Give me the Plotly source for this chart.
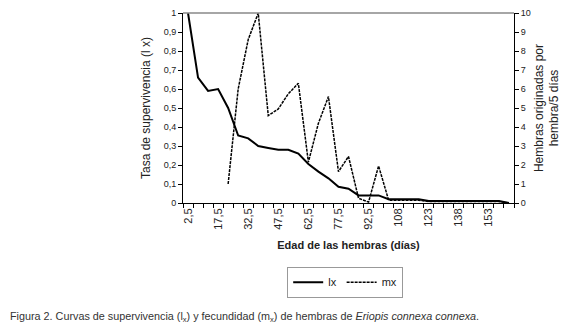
import plotly.graph_objects as go

days = [2.5, 7.5, 12.5, 17.5, 22.5, 27.5, 32.5, 37.5, 42.5, 47.5, 52.5,
        57.5, 62.5, 67.5, 72.5, 77.5, 82.5, 87.5, 92.5, 97.5, 102.5, 107.5,
        112.5, 117.5, 122.5, 127.5, 132.5, 137.5, 142.5, 147.5, 152.5, 157.5, 162.5]
lx = [1.0, 0.66, 0.59, 0.60, 0.50, 0.355, 0.34, 0.30, 0.29, 0.28, 0.28,
      0.26, 0.205, 0.165, 0.13, 0.085, 0.075, 0.04, 0.04, 0.04, 0.02, 0.02,
      0.02, 0.02, 0.01, 0.01, 0.01, 0.01, 0.01, 0.01, 0.01, 0.01, 0.0]
mx = [None, None, None, None, 1.0, 6.0, 8.6, 10.0, 4.6, 4.95, 5.75,
      6.3, 2.15, 4.2, 5.6, 1.65, 2.45, 0.25, 0.05, 1.95, 0.15, 0.15,
      0.15, 0.15, 0.08, 0.08, 0.08, 0.08, 0.08, 0.08, 0.08, 0.08, 0.0]
x_tickvals = [2.5, 17.5, 32.5, 47.5, 62.5, 77.5, 92.5, 107.5, 122.5, 137.5, 152.5]
x_ticktext = ["2,5", "17,5", "32,5", "47,5", "62,5", "77,5", "92,5", "108", "123", "138", "153"]
y_left_ticks = [0, 0.1, 0.2, 0.3, 0.4, 0.5, 0.6, 0.7, 0.8, 0.9, 1]
y_right_ticks = [0, 1, 2, 3, 4, 5, 6, 7, 8, 9, 10]

FONT = "Arial, 'Liberation Sans', sans-serif"
TXT = "#222222"

fig = go.Figure()
fig.add_trace(go.Scatter(x=days, y=lx, name="lx", mode="lines",
                         line=dict(color="black", width=2), yaxis="y"))
fig.add_trace(go.Scatter(x=days, y=mx, name="mx", mode="lines",
                         line=dict(color="black", width=1.5, dash="3px,1px"),
                         yaxis="y2", connectgaps=False))

fig.update_layout(
    width=564, height=318,
    margin=dict(l=175, r=58, t=5, b=123, autoexpand=False),
    paper_bgcolor="white", plot_bgcolor="white",
    separators=",.",
    font=dict(family=FONT, color=TXT, size=10),
    showlegend=True,
    legend=dict(orientation="h", x=0.49, xanchor="center", y=-0.335, yanchor="top",
                bordercolor="#999999", borderwidth=1, font=dict(size=11),
                tracegroupgap=0),
    xaxis=dict(range=[0, 165], showgrid=False, zeroline=False, showline=True,
               linecolor="black", linewidth=1, automargin=False,
               tickmode="array", tickvals=x_tickvals, ticktext=x_ticktext,
               ticks="", tickangle=-90, tickfont=dict(size=11),
               minor=dict(ticks="outside", tick0=0, dtick=5, ticklen=4,
                          tickcolor="black", showgrid=False),
               title=dict(text="<b>Edad de las hembras (días)</b>",
                          font=dict(size=11), standoff=12)),
    yaxis=dict(range=[0, 1], showgrid=False, zeroline=False, showline=True,
               linecolor="black", linewidth=1, automargin=False,
               tickmode="array", tickvals=y_left_ticks, tickformat=".1~f",
               ticks="outside", ticklen=4, tickcolor="black",
               tickfont=dict(size=9),
               title=dict(text="Tasa de supervivencia (l x)", font=dict(size=12),
                          standoff=10)),
    yaxis2=dict(range=[0, 10], overlaying="y", side="right", showgrid=False,
                zeroline=False, showline=True, linecolor="black", linewidth=1,
                automargin=False,
                tickmode="array", tickvals=y_right_ticks,
                ticks="outside", ticklen=4, tickcolor="black",
                tickfont=dict(size=9),
                title=dict(text="Hembras originadas por<br>hembra/5 días",
                           font=dict(size=12), standoff=4)),
    shapes=[dict(type="line", xref="paper", yref="paper", x0=0, x1=1, y0=1, y1=1,
                 line=dict(color="#888888", width=1.5))],
    annotations=[dict(xref="paper", yref="paper", x=-0.529, y=-0.6, xanchor="left",
                      yanchor="middle", showarrow=False,
                      font=dict(family="'Liberation Sans Narrow', 'Arial Narrow', Arial, sans-serif",
                                size=10.8, color="#333333"),
                      text="Figura 2. Curvas de supervivencia (l<sub>x</sub>) y fecundidad "
                           "(m<sub>x</sub>) de hembras de <i>Eriopis connexa connexa</i>.")],
)

fig.write_html("out.html")
